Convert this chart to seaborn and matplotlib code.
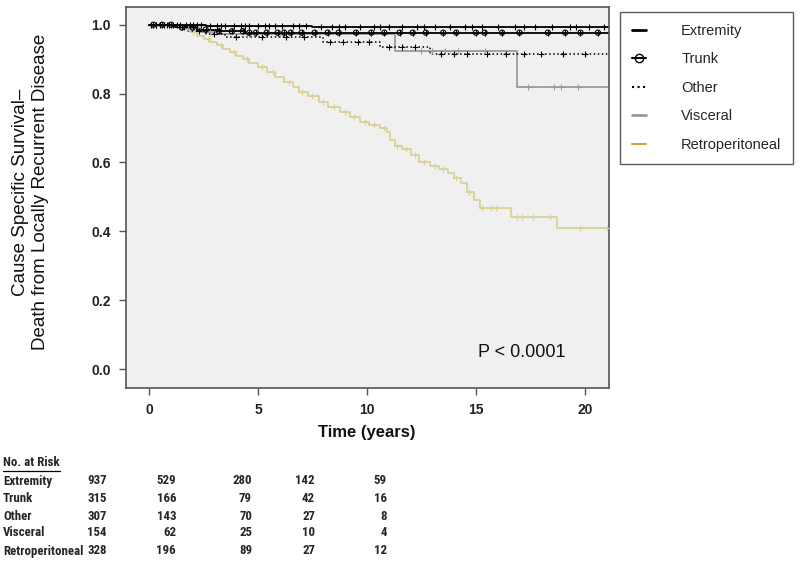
import numpy as np
import pandas as pd
import matplotlib
matplotlib.use('Agg')
import matplotlib.pyplot as plt
from matplotlib import font_manager
from matplotlib.lines import Line2D
import seaborn as sns

# survival steps (time in years, survival proportion)
groups = ['Extremity', 'Trunk', 'Other', 'Visceral', 'Retroperitoneal']
follow_up_end = 21.5

ext_t = [0, 1.5, 2.6, 4.0, 7.5]
ext_s = [1.0, 0.998, 0.996, 0.995, 0.994]
trunk_t = [0, 1.2, 2.2, 3.2, 4.4]
trunk_s = [1.0, 0.992, 0.986, 0.981, 0.977]
other_t = [0, 1.0, 1.8, 2.6, 3.5, 8.0, 10.6, 12.9]
other_s = [1.0, 0.992, 0.982, 0.972, 0.963, 0.949, 0.934, 0.915]
visc_t = [0, 1.4, 2.4, 3.2, 11.3, 16.9]
visc_s = [1.0, 0.99, 0.978, 0.972, 0.924, 0.82]
retro_t = [0, 1.2, 1.6, 1.9, 2.2, 2.5, 2.8, 3.1, 3.4, 3.7, 4.0, 4.3, 4.6, 5.0,
           5.4, 5.8, 6.2, 6.6, 6.9, 7.3, 7.8, 8.2, 8.75, 9.2, 9.66, 10.1, 10.6,
           10.9, 11.05, 11.3, 11.6, 12.0, 12.4, 12.9, 13.3, 13.7, 14.0, 14.3,
           14.6, 14.9, 15.2, 16.6, 18.7]
retro_s = [1.0, 0.995, 0.988, 0.978, 0.967, 0.958, 0.950, 0.940, 0.930, 0.920,
           0.910, 0.900, 0.888, 0.878, 0.862, 0.848, 0.835, 0.820, 0.805, 0.792,
           0.775, 0.762, 0.747, 0.733, 0.718, 0.708, 0.700, 0.688, 0.665, 0.648,
           0.640, 0.622, 0.600, 0.590, 0.582, 0.570, 0.555, 0.540, 0.515, 0.490,
           0.468, 0.442, 0.410]

# censored observations (tick marks)
ext_c = [0.1, 0.3, 0.5, 0.7, 0.8, 1.1, 1.3, 1.4, 1.7, 1.9, 2.0, 2.2, 2.4, 2.8,
         3.1, 3.3, 3.5, 3.9, 4.2, 4.4, 4.6, 5.0, 5.3, 5.5, 5.8, 6.1, 6.6, 6.9,
         7.2, 7.9, 8.4, 8.7, 9.0, 9.7, 10.3, 10.6, 11.0, 11.6, 12.3, 12.6, 13.1,
         13.8, 14.5, 14.8, 15.3, 16.0, 16.8, 17.2, 17.7, 18.5, 19.3, 19.6, 20.2,
         20.9]
trunk_c = [0.2, 0.6, 1.0, 1.5, 2.0, 2.6, 3.2, 3.8, 4.3, 4.6, 4.9, 5.4, 5.9, 6.2,
           6.5, 7.0, 7.6, 8.2, 8.7, 9.5, 10.2, 10.8, 11.5, 12.1, 12.7, 13.5,
           14.1, 15.0, 15.4, 16.2, 17.0, 18.3, 19.1, 19.8, 20.6]
other_c = [0.3, 0.9, 1.6, 2.3, 3.0, 4.0, 5.2, 6.3, 7.1, 8.3, 8.9, 9.6, 10.1,
           11.0, 11.6, 12.2, 13.4, 14.0, 14.6, 15.5, 16.4, 17.2, 18.0, 19.0, 20.0]
visc_c = [0.2, 0.7, 1.8, 2.8, 4.5, 6.0, 12.5, 13.0, 13.6, 14.2, 15.4, 17.4,
          18.6, 18.9, 19.7]
retro_c = [0.3, 0.9, 1.4, 2.0, 2.7, 3.3, 3.9, 4.5, 5.2, 5.7, 6.4, 7.0, 7.5,
           8.0, 8.5, 9.0, 9.4, 9.9, 10.3, 10.8, 11.4, 11.8, 12.2, 12.6, 13.1,
           13.5, 14.1, 14.7, 15.3, 15.7, 15.9, 16.9, 17.1, 17.6, 18.4, 19.8,
           21.0]

# numbers at risk at 0, 5, 10, 15, 20 years
risk_ext = [937, 529, 280, 142, 59]
risk_trunk = [315, 166, 79, 42, 16]
risk_other = [307, 143, 70, 27, 8]
risk_visc = [154, 62, 25, 10, 4]
risk_retro = [328, 196, 89, 27, 12]

times = {'Extremity': ext_t, 'Trunk': trunk_t, 'Other': other_t,
         'Visceral': visc_t, 'Retroperitoneal': retro_t}
surv = {'Extremity': ext_s, 'Trunk': trunk_s, 'Other': other_s,
        'Visceral': visc_s, 'Retroperitoneal': retro_s}
cens = {'Extremity': ext_c, 'Trunk': trunk_c, 'Other': other_c,
        'Visceral': visc_c, 'Retroperitoneal': retro_c}
risk = {'Extremity': risk_ext, 'Trunk': risk_trunk, 'Other': risk_other,
        'Visceral': risk_visc, 'Retroperitoneal': risk_retro}

colors = {'Extremity': 'black', 'Trunk': 'black', 'Other': 'black',
          'Visceral': '#9a9a9a', 'Retroperitoneal': '#d8d296'}
styles = {'Extremity': '-', 'Trunk': '-', 'Other': ':',
          'Visceral': '-', 'Retroperitoneal': '-'}

sns.set_style('white')
plt.rcParams['font.family'] = ['Liberation Sans', 'DejaVu Sans']

# narrow font for the risk table, if one is there
ttf = font_manager.fontManager.ttflist
names = {f.name for f in ttf}
tbl_kw = dict(family='Liberation Sans', fontsize=8.5)
for cand in ['Liberation Sans Narrow', 'DejaVu Sans Condensed',
             'Roboto Condensed', 'Open Sans Condensed']:
    if cand in names:
        tbl_kw = dict(family=cand, fontsize=9.3)
        break
else:
    if any(f.name == 'DejaVu Sans' and f.stretch == 'condensed' for f in ttf):
        tbl_kw = dict(family='DejaVu Sans', fontstretch='condensed', fontsize=9)

fig = plt.figure(figsize=(8, 5.69), dpi=100)
ax = fig.add_axes([0.1575, 0.318, 0.6035, 0.67])
ax.set_facecolor('#f0f0f0')

# draw back to front: retroperitoneal first
for g in ['Retroperitoneal', 'Visceral', 'Other', 'Trunk', 'Extremity']:
    t = np.array(times[g] + [follow_up_end])
    s = np.array(surv[g] + [surv[g][-1]])
    df = pd.DataFrame({'time': t, 'survival': s})
    sns.lineplot(data=df, x='time', y='survival', ax=ax, color=colors[g],
                 linestyle=styles[g], linewidth=1.3 if g != 'Other' else 1.1,
                 drawstyle='steps-post', estimator=None, sort=False)
    ct = np.array(cens[g])
    idx = np.searchsorted(np.array(times[g]), ct, side='right') - 1
    cy = np.array(surv[g])[idx]
    cdf = pd.DataFrame({'time': ct, 'survival': cy})
    if g == 'Trunk':
        sns.scatterplot(data=cdf, x='time', y='survival', ax=ax, marker='o',
                        s=14, facecolor='none', edgecolor='black',
                        linewidth=0.8, zorder=5)
    sns.scatterplot(data=cdf, x='time', y='survival', ax=ax, marker='+',
                    s=14, color=colors[g], linewidth=0.8, zorder=5)

ax.set_xlim(-1.06, 21.1)
ax.set_ylim(-0.055, 1.052)
ax.set_xticks([0, 5, 10, 15, 20])
ax.set_yticks([0.0, 0.2, 0.4, 0.6, 0.8, 1.0])
ax.set_yticklabels(['0.0', '0.2', '0.4', '0.6', '0.8', '1.0'])
ax.set_xlabel('')
ax.set_ylabel('')
for sp in ax.spines.values():
    sp.set_color('#555555')
    sp.set_linewidth(1.2)
ax.tick_params(direction='out', length=5, width=1.0, color='#555555',
               labelsize=10, labelcolor='#222222', pad=6, left=True, bottom=True)
for lab in ax.get_xticklabels() + ax.get_yticklabels():
    lab.set_fontweight('bold')

ax.text(0.729, 0.094, 'P < 0.0001', transform=ax.transAxes, fontsize=13,
        ha='left', va='center', color='#111111')

fig.text(0.038, 1 - 192 / 569,
         'Cause Specific Survival\u2013\nDeath from Locally Recurrent Disease',
         rotation=90, ha='center', va='center', fontsize=13.5,
         multialignment='center', linespacing=1.2, color='#111111')
fig.text(367 / 800, 1 - 432 / 569, 'Time (years)', ha='center', va='center',
         fontsize=12, fontweight='bold', color='#111111')

# legend
handles = [
    Line2D([], [], color='black', lw=2),
    Line2D([], [], color='black', lw=1.5, marker='o', mfc='none', mec='black',
           markersize=6),
    Line2D([], [], color='black', lw=1.5, linestyle=':'),
    Line2D([], [], color='#9a9a9a', lw=2),
    Line2D([], [], color='#c9ab3c', lw=1.5),
]
leg = fig.legend(handles, groups, loc='upper left',
                 bbox_to_anchor=(620 / 800, 1 - 12 / 569), fontsize=10.5,
                 frameon=True, fancybox=False, edgecolor='#333333',
                 handlelength=1.0, handletextpad=2.4, labelspacing=1.0,
                 borderpad=0.8, borderaxespad=0.0)
leg.get_frame().set_linewidth(1.0)
leg.get_frame().set_facecolor('white')

# number at risk table
row_y = [481, 498, 516, 533, 551]
col_x = [107, 176, 252, 315, 387]
title = fig.text(3 / 800, 1 - 463 / 569, 'No. at Risk', fontweight='bold',
                 ha='left', va='center', **tbl_kw)
# underline drawn to the measured width of the title
fig.canvas.draw()
bb = title.get_window_extent().transformed(fig.transFigure.inverted())
fig.add_artist(Line2D([bb.x0, bb.x1], [bb.y0 - 0.002, bb.y0 - 0.002],
                      color='black', lw=0.9))
for g, yy in zip(groups, row_y):
    fig.text(3 / 800, 1 - yy / 569, g, fontweight='bold',
             ha='left', va='center', **tbl_kw)
    for n, xx in zip(risk[g], col_x):
        fig.text(xx / 800, 1 - yy / 569, str(n), fontweight='bold',
                 ha='right', va='center', **tbl_kw)

fig.savefig('out.png', dpi=100)
